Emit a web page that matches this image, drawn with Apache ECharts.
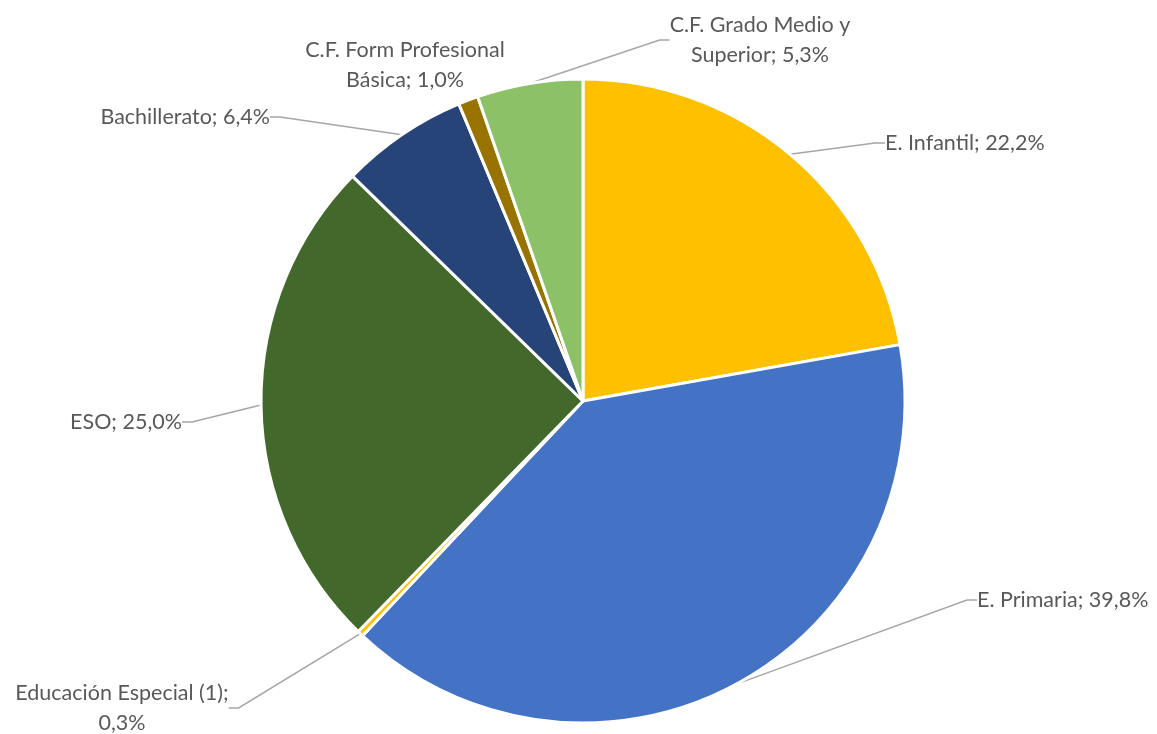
<!DOCTYPE html>
<html><head><meta charset="utf-8">
<script src="https://cdn.jsdelivr.net/npm/echarts@6/dist/echarts.min.js"></script>
<style>html,body{margin:0;padding:0;background:#fff}#c{width:1157px;height:734px}</style>
</head><body><div id="c"></div>
<script>
var categories = ['E. Infantil','E. Primaria','Educación Especial (1)','ESO','Bachillerato','C.F. Form Profesional Básica','C.F. Grado Medio y Superior'];
var values = [22.2, 39.8, 0.3, 25.0, 6.4, 1.0, 5.3];
var labelNames = ['E. Infantil','E. Primaria','Educación Especial (1);\n','ESO','Bachillerato','C.F. Form Profesional\nBásica','C.F. Grado Medio y\nSuperior'];
var colors = ['#FFC000','#4472C4','#FFC000','#43682B','#264478','#997300','#8CC168'];
var labelPos = [
  {x:885, y:143, align:'left'},
  {x:977, y:600, align:'left'},
  {x:122, y:708, align:'center'},
  {x:182, y:422, align:'right'},
  {x:270, y:117, align:'right'},
  {x:405, y:65, align:'center'},
  {x:760, y:40, align:'center'}
];
var chart = echarts.init(document.getElementById('c'));
chart.setOption({
  animation:false,
  series:[{
    type:'pie',
    center:[583,401],
    radius:[0,322],
    startAngle:90,
    clockwise:true,
    data: categories.map(function(c,i){
      return {name:c, value:values[i], itemStyle:{color:colors[i]}, labelLine:{show:i!==5}};
    }),
    itemStyle:{borderColor:'#fff', borderWidth:3},
    label:{
      show:true,
      color:'#595959',
      fontFamily:'Lato',
      fontSize:21.5,
      lineHeight:30,
      formatter:function(p){
        var n = labelNames[p.dataIndex];
        var sep = n.charAt(n.length-1)==='\n' ? '' : '; ';
        return n + sep + values[p.dataIndex].toFixed(1).replace('.',',') + '%';
      }
    },
    labelLine:{show:true, lineStyle:{color:'#A6A6A6', width:1.5}, length:20, length2:10},
    labelLayout:function(p){
      var L = labelPos[p.dataIndex];
      return {x:L.x, y:L.y, align:L.align, verticalAlign:'middle'};
    }
  }]
});
</script></body></html>
